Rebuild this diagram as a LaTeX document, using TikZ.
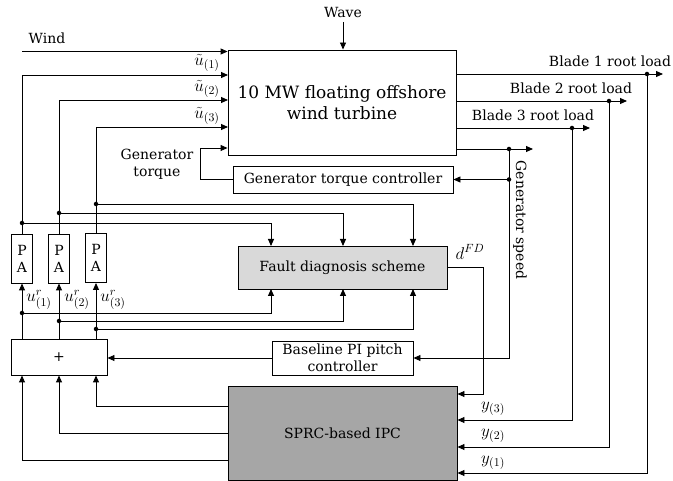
\RequirePackage{fix-cm}
\documentclass[tikz,border=0pt]{standalone}
\usepackage{fontspec}
\setmainfont{DejaVu Serif}
\usetikzlibrary{arrows.meta}
\definecolor{fdgray}{HTML}{D9D9D9}
\definecolor{ipcgray}{HTML}{A6A6A6}
\begin{document}
\begin{tikzpicture}[x=1pt,y=-1pt, line width=0.9pt,
  >={Triangle[length=7pt,width=6pt]},
  box/.style={draw, inner sep=0pt, align=center, font=\fontsize{14}{16}\selectfont},
  lbl/.style={inner sep=0pt, font=\fontsize{14}{16}\selectfont},
  mlbl/.style={inner sep=0pt, font=\fontsize{17}{20}\selectfont},
  dot/.style={circle, fill, inner sep=0pt, minimum size=4.5pt}]
\useasboundingbox (0,0) rectangle (673,481);

% blocks
\node[box, minimum width=228pt, minimum height=105pt, font=\fontsize{17}{21}\selectfont] (turb) at (342,102.5) {10 MW floating offshore\\wind turbine};
\node[box, minimum width=220pt, minimum height=27pt] (gtc) at (343,179.5) {Generator torque controller};
\node[box, fill=fdgray, minimum width=209pt, minimum height=43pt] (fd) at (342.5,267.5) {Fault diagnosis scheme};
\node[box, minimum width=141pt, minimum height=34pt, font=\fontsize{14}{17}\selectfont] (pi) at (342.5,358) {Baseline PI pitch\\controller};
\node[box, fill=ipcgray, minimum width=229pt, minimum height=94pt] (sprc) at (342.5,433) {SPRC-based IPC};
\node[box, minimum width=96pt, minimum height=36pt] (plus) at (59,357) {+};
\node[box, minimum width=21pt, minimum height=49pt, font=\fontsize{14}{17}\selectfont] (pa1) at (22,258.5) {P\\A};
\node[box, minimum width=21pt, minimum height=49pt, font=\fontsize{14}{17}\selectfont] (pa2) at (59,258.5) {P\\A};
\node[box, minimum width=21pt, minimum height=49pt, font=\fontsize{14}{17}\selectfont] (pa3) at (96,258) {P\\A};

% labels
\node[lbl] (wind) at (47,38) {Wind};
\node[lbl] (wave) at (343,12) {Wave};
\node[lbl, align=center, font=\fontsize{14}{17}\selectfont] (gtq) at (157,164) {Generator\\torque};
\node[lbl] (bl1) at (610,61) {Blade 1 root load};
\node[lbl] (bl2) at (571,88) {Blade 2 root load};
\node[lbl] (bl3) at (533,115) {Blade 3 root load};
\node[lbl, rotate=-90] (gsp) at (520,220) {Generator speed};
\node[mlbl] (u1l) at (207,63) {$\tilde{u}_{(1)}$};
\node[mlbl] (u2l) at (207,89) {$\tilde{u}_{(2)}$};
\node[mlbl] (u3l) at (207,116) {$\tilde{u}_{(3)}$};
\node[mlbl] (ur1) at (39,300) {$u^{r}_{(1)}$};
\node[mlbl] (ur2) at (77,300) {$u^{r}_{(2)}$};
\node[mlbl] (ur3) at (113,300) {$u^{r}_{(3)}$};
\node[mlbl] (dfdl) at (470,252) {$d^{FD}$};
\node[mlbl] (y3l) at (493,409) {$y_{(3)}$};
\node[mlbl] (y2l) at (493,436) {$y_{(2)}$};
\node[mlbl] (y1l) at (493,463) {$y_{(1)}$};

% coordinates
\coordinate (windS) at (22,51.5);
\coordinate (u1) at (228,75);
\coordinate (u2) at (228,100);
\coordinate (u3) at (228,127);
\coordinate (gtk) at (200,148);
\coordinate (b1) at (647,74);   \coordinate (b1e) at (663,74);
\coordinate (b2) at (609,101);  \coordinate (b2e) at (627,101);
\coordinate (b3) at (572,128);  \coordinate (b3e) at (590,128);
\coordinate (gs) at (509,149);  \coordinate (gse) at (533,149);
\coordinate (gs2) at (509,179.5);
\coordinate (dfd) at (483,394);
\coordinate (y3) at (572,420);
\coordinate (y2) at (609,447);
\coordinate (y1) at (647,473);
\coordinate (t1) at (22,223);  \coordinate (f1) at (271,246);
\coordinate (t2) at (59,213);  \coordinate (f2) at (343,246);
\coordinate (t3) at (96,204);  \coordinate (f3) at (413,246);
\coordinate (s1) at (22,313);  \coordinate (g1) at (271,289);
\coordinate (s2) at (59,321);  \coordinate (g2) at (343,289);
\coordinate (s3) at (96,329);  \coordinate (g3) at (413,289);
\coordinate (o3) at (228,406);
\coordinate (o2) at (228,433);
\coordinate (o1) at (228,460);

% inputs to turbine
\draw[->] (windS) -- (windS -| turb.west);
\draw[->] (wave) ++(0,10) -- (wave |- turb.north);
\draw[->] (pa1.north) |- (u1);
\draw[->] (pa2.north) |- (u2);
\draw[->] (pa3.north) |- (u3);
\draw[->] (gtc.west) -| (gtk) -- (gtk -| turb.west);

% turbine outputs
\draw[->] (b1 -| turb.east) -- (b1e);
\draw[->] (b2 -| turb.east) -- (b2e);
\draw[->] (b3 -| turb.east) -- (b3e);
\draw[->] (gs -| turb.east) -- (gse);
\draw[->] (b1) -- (y1) -- (y1 -| sprc.east);
\draw[->] (b2) -- (y2) -- (y2 -| sprc.east);
\draw[->] (b3) -- (y3) -- (y3 -| sprc.east);
\draw[->] (gs2) -- (gtc.east);
\draw[->] (gs) |- (pi.east);
\draw[->] (fd.east) -| (dfd) -- (dfd -| sprc.east);

% fault diagnosis inputs
\draw[->] (t1) -| (f1);
\draw[->] (t2) -| (f2);
\draw[->] (t3) -| (f3);
\draw[->] (s1) -| (g1);
\draw[->] (s2) -| (g2);
\draw[->] (s3) -| (g3);

% sum block
\draw[->] (plus.north -| pa1) -- (pa1.south);
\draw[->] (plus.north -| pa2) -- (pa2.south);
\draw[->] (plus.north -| pa3) -- (pa3.south);
\draw[->] (pi.west) -- (plus.east |- pi.west);
\draw[->] (o3) -| (plus.south -| pa3);
\draw[->] (o2) -| (plus.south -| pa2);
\draw[->] (o1) -| (plus.south -| pa1);

% dots
\foreach \p in {b1,b2,b3,gs,gs2,t1,t2,t3,s1,s2,s3} \node[dot] at (\p) {};
\end{tikzpicture}
\end{document}
